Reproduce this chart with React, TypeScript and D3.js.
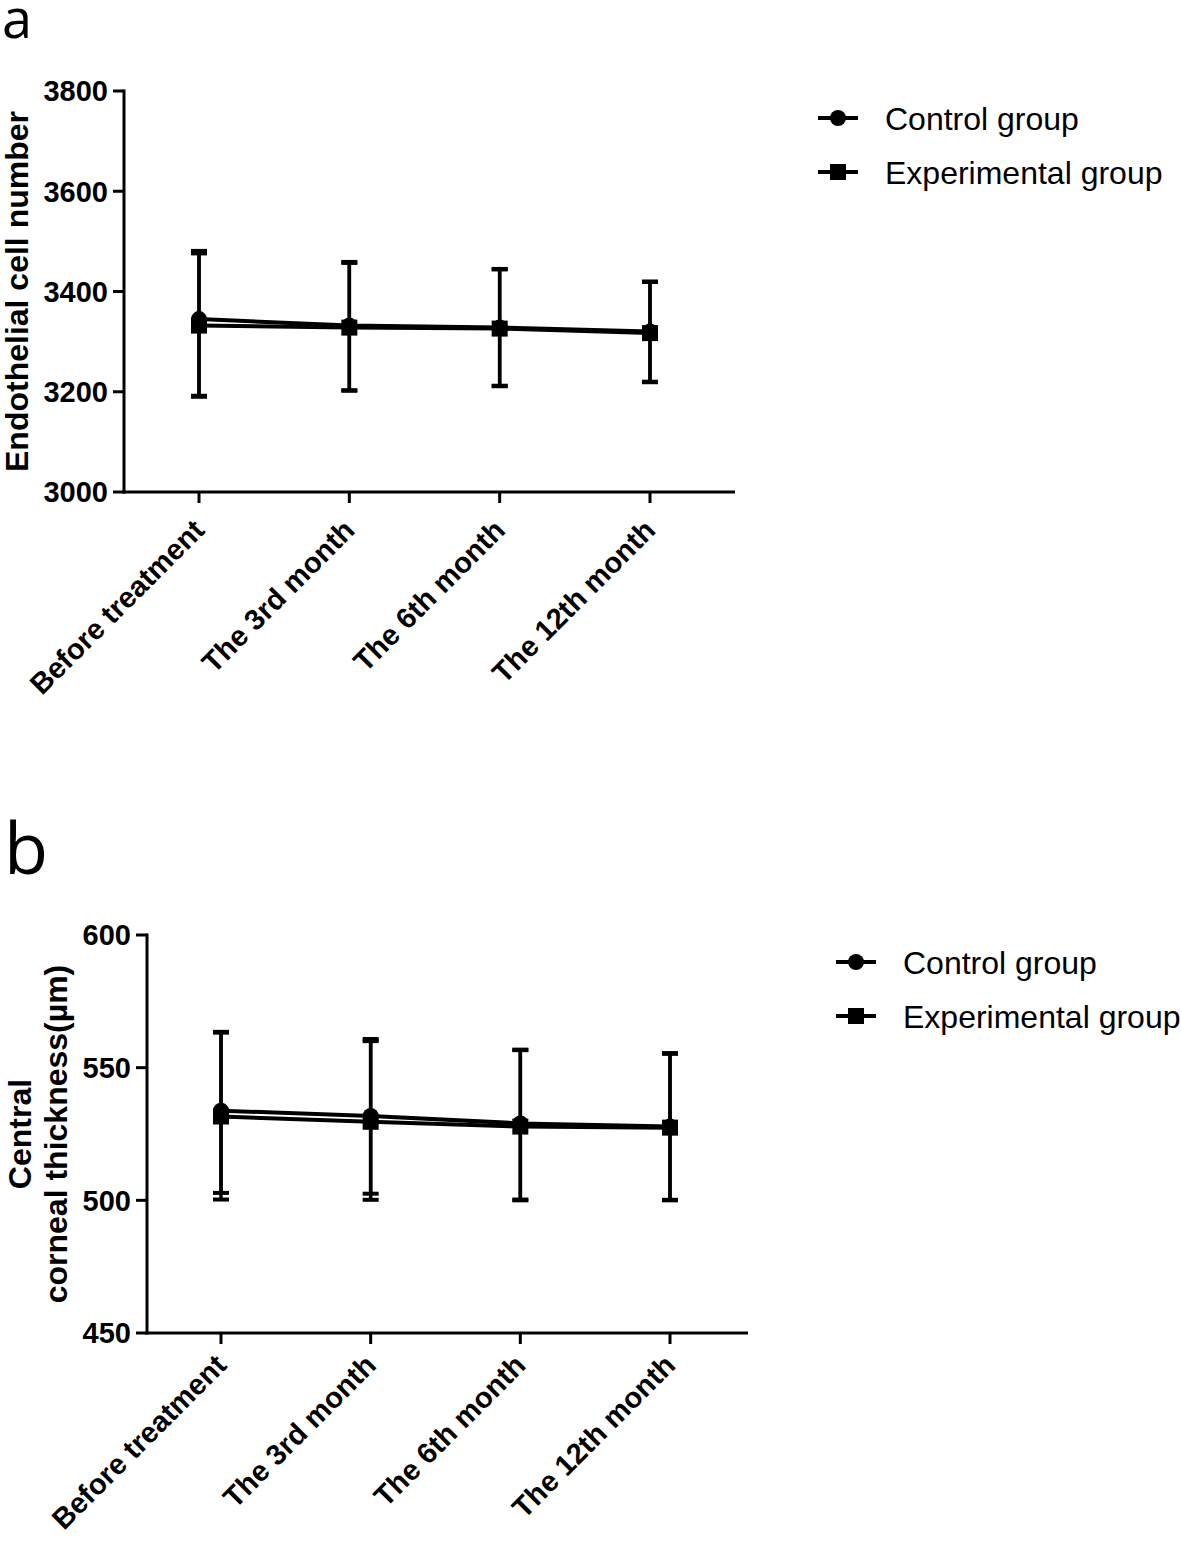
import React from 'react';
import * as d3 from 'd3';

// ---------- data ----------
const categories = ['Before treatment', 'The 3rd month', 'The 6th month', 'The 12th month'];
const seriesNames = ['Control group', 'Experimental group'];

// Panel a: endothelial cell number
const ecControlMean = [3345, 3332, 3328, 3320];
const ecControlUpper = [3481, 3459, 3445, 3420];
const ecControlLower = [3192, 3203, 3212, 3220];
const ecExpMean = [3332, 3328, 3326, 3317];
const ecExpUpper = [3476, 3457, 3444, 3419];
const ecExpLower = [3190, 3202, 3211, 3219];
const ecTicks = [3000, 3200, 3400, 3600, 3800];

// Panel b: central corneal thickness
const cctControlMean = [533.8, 531.8, 529.0, 527.8];
const cctControlUpper = [563.5, 560.8, 556.8, 555.5];
const cctControlLower = [502.8, 502.5, 500.3, 500.2];
const cctExpMean = [531.6, 529.6, 527.8, 527.4];
const cctExpUpper = [563.2, 560.0, 556.6, 555.2];
const cctExpLower = [500.3, 500.2, 500.0, 500.0];
const cctTicks = [450, 500, 550, 600];

const BOLD = "'Liberation Sans', Arial, Helvetica, sans-serif";

type Series = { name: string; mean: number[]; upper: number[]; lower: number[]; shape: 'circle' | 'square' };

type PanelProps = {
  letter: string;
  letterX: number;
  letterY: number;
  letterSize: number;
  axisX: number;
  axisEndX: number;
  firstX: number;
  lastX: number;
  top: number;
  bottom: number;
  ticks: number[];
  titleLines: string[];
  titleX: number[];
  labelOffset: number;
  series: Series[];
  legendX: number;
  legendY: number;
};

function Marker({ shape, x, y }: { shape: string; x: number; y: number }) {
  if (shape === 'circle') return <circle cx={x} cy={y} r={8} fill="#000" />;
  return <rect x={x - 8} y={y - 8} width={16} height={16} fill="#000" />;
}

function Panel(p: PanelProps) {
  const x = d3.scalePoint<string>().domain(categories).range([p.firstX, p.lastX]);
  const y = d3
    .scaleLinear()
    .domain([p.ticks[0], p.ticks[p.ticks.length - 1]])
    .range([p.bottom, p.top]);
  const line = d3
    .line<number>()
    .x((_, i) => x(categories[i]) as number)
    .y((d) => y(d));
  const titleCenter = (p.top + p.bottom) / 2;
  const capW = 16;
  return (
    <g>
      <text x={p.letterX} y={p.letterY} fontFamily="'Open Sans', 'Noto Sans', sans-serif" fontSize={p.letterSize}>
        {p.letter}
      </text>
      {/* y axis */}
      <line x1={p.axisX} x2={p.axisX} y1={p.top - 1.5} y2={p.bottom + 1.5} stroke="#000" strokeWidth={3} />
      {p.ticks.map((t) => (
        <g key={t}>
          <line x1={p.axisX - 11} x2={p.axisX} y1={y(t)} y2={y(t)} stroke="#000" strokeWidth={3} />
          <text
            x={p.axisX - 16}
            y={y(t)}
            dy="0.36em"
            textAnchor="end"
            fontFamily={BOLD}
            fontWeight="bold"
            fontSize={29}
          >
            {t}
          </text>
        </g>
      ))}
      {/* x axis */}
      <line x1={p.axisX - 1.5} x2={p.axisEndX} y1={p.bottom} y2={p.bottom} stroke="#000" strokeWidth={3} />
      {categories.map((c) => (
        <g key={c}>
          <line x1={x(c)} x2={x(c)} y1={p.bottom} y2={p.bottom + 11} stroke="#000" strokeWidth={3} />
          <text
            transform={`translate(${(x(c) as number) + 7},${p.bottom + p.labelOffset}) rotate(-45)`}
            textAnchor="end"
            fontFamily={BOLD}
            fontWeight="bold"
            fontSize={29}
          >
            {c}
          </text>
        </g>
      ))}
      {/* y title */}
      {p.titleLines.map((t, i) => (
        <text
          key={t}
          transform={`translate(${p.titleX[i]},${titleCenter}) rotate(-90)`}
          textAnchor="middle"
          fontFamily={BOLD}
          fontWeight="bold"
          fontSize={32}
        >
          {t}
        </text>
      ))}
      {/* error bars */}
      {p.series.map((s) => (
        <g key={s.name + 'err'}>
          {s.mean.map((m, i) => {
            const cx = x(categories[i]) as number;
            return (
              <g key={i}>
                <line x1={cx} x2={cx} y1={y(s.lower[i])} y2={y(s.upper[i])} stroke="#000" strokeWidth={3.5} />
                <line x1={cx - capW / 2} x2={cx + capW / 2} y1={y(s.upper[i])} y2={y(s.upper[i])} stroke="#000" strokeWidth={4} />
                <line x1={cx - capW / 2} x2={cx + capW / 2} y1={y(s.lower[i])} y2={y(s.lower[i])} stroke="#000" strokeWidth={4} />
              </g>
            );
          })}
        </g>
      ))}
      {/* lines */}
      {p.series.map((s) => (
        <path key={s.name + 'line'} d={line(s.mean) || ''} fill="none" stroke="#000" strokeWidth={4} />
      ))}
      {/* markers */}
      {p.series.map((s) => (
        <g key={s.name + 'mk'}>
          {s.mean.map((m, i) => (
            <Marker key={i} shape={s.shape} x={x(categories[i]) as number} y={y(m)} />
          ))}
        </g>
      ))}
      {/* legend */}
      {p.series.map((s, i) => {
        const ly = p.legendY + i * 54;
        return (
          <g key={s.name + 'lg'}>
            <line x1={p.legendX} x2={p.legendX + 40} y1={ly} y2={ly} stroke="#000" strokeWidth={4} />
            <Marker shape={s.shape} x={p.legendX + 20} y={ly} />
            <text
              x={p.legendX + 67}
              y={ly}
              dy="0.36em"
              fontFamily="'Liberation Sans', Arial, Helvetica, sans-serif"
              fontSize={32}
            >
              {s.name}
            </text>
          </g>
        );
      })}
    </g>
  );
}

export default function App() {
  const seriesA: Series[] = [
    { name: seriesNames[0], mean: ecControlMean, upper: ecControlUpper, lower: ecControlLower, shape: 'circle' },
    { name: seriesNames[1], mean: ecExpMean, upper: ecExpUpper, lower: ecExpLower, shape: 'square' },
  ];
  const seriesB: Series[] = [
    { name: seriesNames[0], mean: cctControlMean, upper: cctControlUpper, lower: cctControlLower, shape: 'circle' },
    { name: seriesNames[1], mean: cctExpMean, upper: cctExpUpper, lower: cctExpLower, shape: 'square' },
  ];
  return (
    <svg
      width={1181}
      height={1542}
      viewBox="0 0 1181 1542"
      style={{ position: 'absolute', left: 0, top: 0, background: '#fff' }}
    >
      <rect width={1181} height={1542} fill="#fff" />
      <Panel
        letter="a"
        letterX={2}
        letterY={38}
        letterSize={54}
        axisX={124}
        axisEndX={735}
        firstX={199}
        lastX={650}
        top={91}
        bottom={492}
        ticks={ecTicks}
        titleLines={['Endothelial cell number']}
        titleX={[28]}
        labelOffset={40}
        series={seriesA}
        legendX={818}
        legendY={118}
      />
      <Panel
        letter="b"
        letterX={4}
        letterY={874}
        letterSize={72}
        axisX={147}
        axisEndX={748}
        firstX={221}
        lastX={670}
        top={935}
        bottom={1333}
        ticks={cctTicks}
        titleLines={['Central', 'corneal thickness(\u00b5m)']}
        titleX={[31, 67]}
        labelOffset={34}
        series={seriesB}
        legendX={836}
        legendY={962}
      />
    </svg>
  );
}
